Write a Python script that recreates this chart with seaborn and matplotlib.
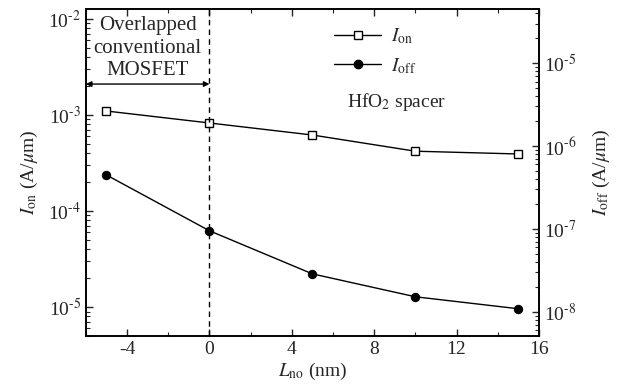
import numpy as np
import pandas as pd
import matplotlib
matplotlib.use("Agg")
import matplotlib.pyplot as plt
import seaborn as sns
from matplotlib.ticker import LogLocator, FuncFormatter, MultipleLocator, NullFormatter
from matplotlib.lines import Line2D

# ---- data ----
L_no = [-5, 0, 5, 10, 15]
I_on = [1.10e-3, 8.26e-4, 6.19e-4, 4.20e-4, 3.93e-4]
I_off = [4.47e-7, 9.5e-8, 2.87e-8, 1.52e-8, 1.09e-8]
x_ticks = [-4, 0, 4, 8, 12, 16]

sns.set_style("ticks")
plt.rcParams['font.family'] = ['Liberation Serif', 'DejaVu Serif']
plt.rcParams['mathtext.fontset'] = 'stix'
plt.rcParams['xtick.direction'] = 'in'
plt.rcParams['ytick.direction'] = 'in'

df = pd.DataFrame({"L": L_no, "Ion": I_on, "Ioff": I_off})

fig = plt.figure(figsize=(6.18, 3.89), dpi=100)
ax = fig.add_axes([0.139, 0.136, 0.733, 0.841])
ax2 = ax.twinx()

sns.lineplot(data=df, x="L", y="Ion", ax=ax, color="black", lw=1, marker="s",
             markersize=5.5, markerfacecolor="white", markeredgecolor="black",
             markeredgewidth=1)
sns.lineplot(data=df, x="L", y="Ioff", ax=ax2, color="black", lw=1, marker="o",
             markersize=6, markerfacecolor="black", markeredgecolor="black")

ax.set_yscale("log")
ax2.set_yscale("log")
ax.set_xlim(-6, 16)
ax.set_ylim(5.0e-6, 1.27e-2)
ax2.set_ylim(5.1e-9, 4.5e-5)

def fmt(v, pos):
    e = int(round(np.log10(v)))
    return r"10$^{\text{%d}}$" % e

for a in (ax, ax2):
    a.yaxis.set_major_locator(LogLocator(base=10, numticks=20))
    a.yaxis.set_minor_locator(LogLocator(base=10, subs=np.arange(2, 10), numticks=20))
    a.yaxis.set_minor_formatter(NullFormatter())
    a.yaxis.set_major_formatter(FuncFormatter(fmt))
    a.tick_params(axis='y', which='major', length=5, width=1, labelsize=14)
    a.tick_params(axis='y', which='minor', length=3, width=0.8)
    for s in a.spines.values():
        s.set_linewidth(1.2)
        s.set_color("black")

ax.set_xticks(x_ticks)
ax.xaxis.set_minor_locator(MultipleLocator(2))
ax.tick_params(axis='x', which='major', length=5, width=1, labelsize=14, top=True)
ax.tick_params(axis='x', which='minor', length=3, width=0.8, top=True)
ax.tick_params(axis='y', which='both', right=False)
ax2.tick_params(axis='y', which='both', left=False)
ax.set_xticklabels([str(t) for t in x_ticks])

ax.set_xlabel(r"$L_{\mathrm{no}}$ (nm)", fontsize=14, labelpad=2)
ax.set_ylabel(r"$I_{\mathrm{on}}$ (A/$\mu$m)", fontsize=14, labelpad=6)
ax2.set_ylabel(r"$I_{\mathrm{off}}$ (A/$\mu$m)", fontsize=14, labelpad=10)

# vertical dashed line and arrow
ax.axvline(0, color="black", lw=1, ls=(0, (4, 3)))
ax.annotate("", xy=(-6, 2.1e-3), xytext=(0, 2.1e-3),
            arrowprops=dict(arrowstyle="<|-|>", color="black", lw=1,
                            mutation_scale=8, shrinkA=0, shrinkB=0))
ax.text(-3, 2.3e-3, "Overlapped\nconventional\nMOSFET", ha="center", va="bottom",
        fontsize=15, linespacing=1.25)
ax.text(9.1, 1.37e-3, r"HfO$_2$ spacer", ha="center", va="center", fontsize=14)

handles = [
    Line2D([], [], color="black", lw=1, marker="s", markersize=5.5,
           markerfacecolor="white", markeredgecolor="black"),
    Line2D([], [], color="black", lw=1, marker="o", markersize=6,
           markerfacecolor="black", markeredgecolor="black"),
]
labels = [r"$I_{\mathrm{on}}$", r"$I_{\mathrm{off}}$"]
ax2.legend(handles, labels, loc="upper left", bbox_to_anchor=(0.51, 1.0),
           frameon=False, fontsize=14, handlelength=2.4, handletextpad=0.5,
           labelspacing=0.5)

fig.savefig("out.png", dpi=100)
